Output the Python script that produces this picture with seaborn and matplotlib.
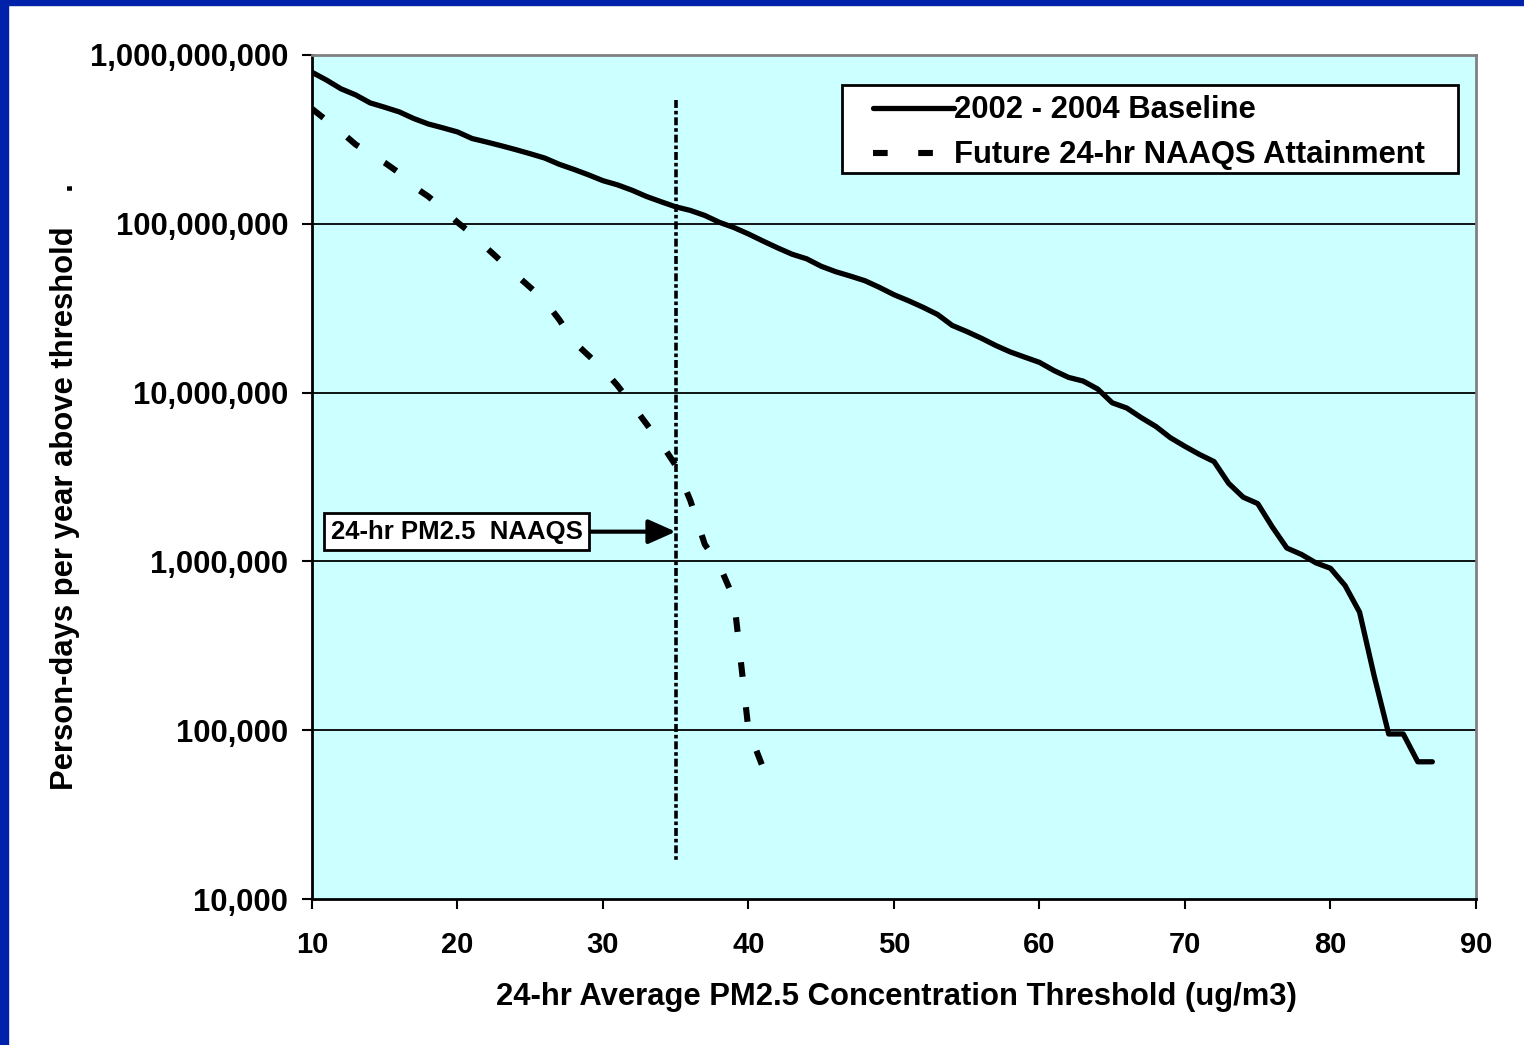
import numpy as np
import pandas as pd
import matplotlib
matplotlib.use("Agg")
import matplotlib.pyplot as plt
import matplotlib.ticker as mticker
import seaborn as sns

# valores (person-days por año sobre el umbral)
umbral_base = list(range(10, 88))
baseline = [7.9e8, 7.1e8, 6.3e8, 5.8e8, 5.2e8, 4.9e8, 4.6e8, 4.2e8, 3.9e8, 3.7e8,
            3.5e8, 3.2e8, 3.05e8, 2.9e8, 2.75e8, 2.6e8, 2.45e8, 2.25e8, 2.1e8, 1.95e8,
            1.8e8, 1.7e8, 1.58e8, 1.45e8, 1.35e8, 1.26e8, 1.2e8, 1.12e8, 1.02e8, 9.5e7,
            8.7e7, 7.9e7, 7.2e7, 6.6e7, 6.2e7, 5.6e7, 5.2e7, 4.9e7, 4.6e7, 4.2e7,
            3.8e7, 3.5e7, 3.2e7, 2.9e7, 2.5e7, 2.3e7, 2.1e7, 1.9e7, 1.74e7, 1.62e7,
            1.51e7, 1.35e7, 1.23e7, 1.17e7, 1.05e7, 8.7e6, 8.1e6, 7.1e6, 6.3e6, 5.4e6,
            4.8e6, 4.3e6, 3.9e6, 2.9e6, 2.4e6, 2.2e6, 1.6e6, 1.2e6, 1.1e6, 9.8e5,
            9.1e5, 7.2e5, 5.0e5, 2.1e5, 9.5e4, 9.5e4, 6.5e4, 6.5e4]

umbral_futuro = list(range(10, 42))
futuro = [4.8e8, 4.1e8, 3.5e8, 2.95e8, 2.6e8, 2.3e8, 2.0e8, 1.66e8, 1.45e8, 1.23e8,
          1.02e8, 8.7e7, 7.2e7, 6.0e7, 5.0e7, 4.2e7, 3.5e7, 2.7e7, 2.0e7, 1.66e7,
          1.38e7, 1.1e7, 8.5e6, 6.5e6, 5.0e6, 3.7e6, 2.3e6, 1.26e6, 9.5e5, 6.0e5,
          1.0e5, 6.0e4]

naaqs = 35
naaqs_rango = [5.4e8, 1.7e4]

etiquetas = ["2002 - 2004 Baseline", "Future 24-hr NAAQS Attainment"]

df_base = pd.DataFrame({"Umbral": umbral_base, "Dias": baseline})
df_fut = pd.DataFrame({"Umbral": umbral_futuro, "Dias": futuro})

sns.set_style("white")
plt.rcParams['font.family'] = ['Liberation Sans', 'DejaVu Sans']
plt.rcParams['font.weight'] = 'bold'
for k in ["text.color", "axes.labelcolor", "xtick.color", "ytick.color"]:
    plt.rcParams[k] = "black"

fig = plt.figure(figsize=(15.24, 10.45), dpi=100)
fig.patch.set_facecolor("white")
ax = fig.add_axes([0.2047, 0.1397, 0.7638, 0.8077])
ax.set_facecolor("#CCFFFF")

# marco azul de la diapositiva
fig.patches.append(plt.Rectangle((0, 1 - 5 / 1045), 1, 5 / 1045, transform=fig.transFigure,
                                 color="#0022AA", zorder=0))
fig.patches.append(plt.Rectangle((0, 0), 8 / 1524, 1, transform=fig.transFigure,
                                 color="#0022AA", zorder=0))

ax.set_yscale("log")
ax.set_xlim(10, 90)
ax.set_ylim(1e4, 1e9)

for d in [1e5, 1e6, 1e7, 1e8]:
    ax.axhline(d, color="black", lw=1.3, zorder=1)

sns.lineplot(data=df_base, x="Umbral", y="Dias", ax=ax, color="black", lw=3.8,
             label=etiquetas[0], zorder=3)
sns.lineplot(data=df_fut, x="Umbral", y="Dias", ax=ax, color="black", lw=4.4,
             label=etiquetas[1], zorder=3)
ax.lines[-1].set_linestyle((0, (2.4, 5.0)))
ax.lines[-1].set_dash_capstyle("butt")

ax.plot([naaqs, naaqs], naaqs_rango, color="black", lw=2.6,
        linestyle=(0, (2.2, 0.8, 1.0, 0.8)), zorder=2)

ax.annotate("24-hr PM2.5  NAAQS", xy=(naaqs, 1.5e6), xytext=(19.95, 1.5e6),
            ha="center", va="center", fontsize=18.5, fontweight="bold",
            bbox=dict(boxstyle="square,pad=0.25", fc="white", ec="black", lw=2),
            arrowprops=dict(arrowstyle="-|>,head_length=0.9,head_width=0.4", color="black",
                            lw=3, shrinkA=0, shrinkB=0), zorder=4)

ax.yaxis.set_major_locator(mticker.LogLocator(base=10, numticks=10))
ax.yaxis.set_minor_locator(mticker.NullLocator())
ax.yaxis.set_major_formatter(mticker.FuncFormatter(lambda v, p: f"{int(round(v)):,}"))
ax.set_xticks(range(10, 100, 10))

ax.tick_params(axis="y", direction="out", length=7, width=1.5, pad=10,
               labelsize=22.3, left=True)
ax.tick_params(axis="x", direction="out", length=7, width=1.5, pad=16,
               labelsize=21, bottom=True)
for lab in ax.get_xticklabels() + ax.get_yticklabels():
    lab.set_fontweight("bold")

for s in ["left", "bottom"]:
    ax.spines[s].set_color("black")
    ax.spines[s].set_linewidth(2)
for s in ["top", "right"]:
    ax.spines[s].set_color("#808080")
    ax.spines[s].set_linewidth(2)

ax.set_xlabel("24-hr Average PM2.5 Concentration Threshold (ug/m3)", fontsize=22.3,
              fontweight="bold")
ax.set_ylabel("Person-days per year above threshold    .", fontsize=22.3,
              fontweight="bold")
ax.xaxis.set_label_coords(0.502, -0.098)
ax.yaxis.set_label_coords(-0.199, 0.489)

# recuadro de la leyenda (mas margen a los lados que arriba/abajo)
ax.add_patch(plt.Rectangle((0.4553, 0.8602), 0.5292, 0.1043, transform=ax.transAxes,
                           fc="white", ec="black", lw=2, zorder=5))
leg = ax.legend(loc="upper left", bbox_to_anchor=(0.482, 0.952), borderaxespad=0,
                borderpad=0, frameon=False, handlelength=2.6, handletextpad=0.02,
                labelspacing=0.48, prop={"weight": "bold", "size": 22.3})
leg.set_zorder(6)

fig.savefig("out.png", dpi=100)
